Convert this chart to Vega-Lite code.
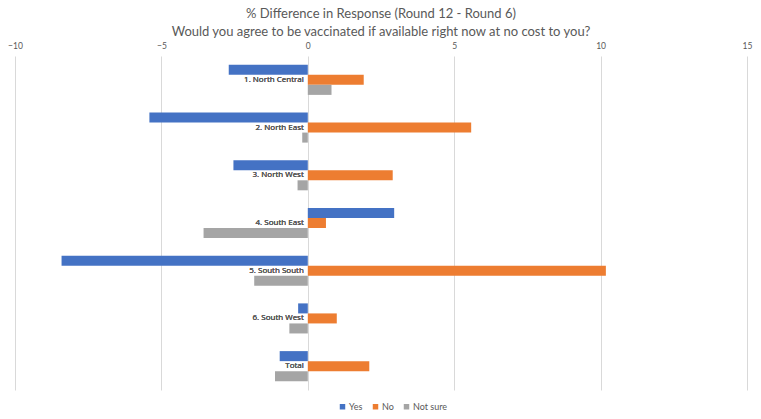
{
  "$schema": "https://vega.github.io/schema/vega-lite/v6.json",
  "width": 732,
  "height": 334,
  "autosize": {"type": "none"},
  "padding": {"left": 15, "top": 56, "right": 14, "bottom": 29},
  "background": "white",
  "title": {
    "text": ["% Difference in Response (Round 12 - Round 6)", "Would you agree to be vaccinated if available right now at no cost to you?"],
    "anchor": "middle",
    "font": "Lato",
    "fontSize": 13,
    "fontWeight": "normal",
    "color": "#595959",
    "lineHeight": 18,
    "offset": 2
  },
  "config": {
    "view": {"stroke": null},
    "font": "Lato"
  },
  "data": {
    "values": [
      {"region": "1. North Central", "series": "Yes", "value": -2.70},
      {"region": "1. North Central", "series": "No", "value": 1.91},
      {"region": "1. North Central", "series": "Not sure", "value": 0.81},
      {"region": "2. North East", "series": "Yes", "value": -5.41},
      {"region": "2. North East", "series": "No", "value": 5.58},
      {"region": "2. North East", "series": "Not sure", "value": -0.19},
      {"region": "3. North West", "series": "Yes", "value": -2.54},
      {"region": "3. North West", "series": "No", "value": 2.90},
      {"region": "3. North West", "series": "Not sure", "value": -0.35},
      {"region": "4. South East", "series": "Yes", "value": 2.95},
      {"region": "4. South East", "series": "No", "value": 0.62},
      {"region": "4. South East", "series": "Not sure", "value": -3.56},
      {"region": "5. South South", "series": "Yes", "value": -8.41},
      {"region": "5. South South", "series": "No", "value": 10.18},
      {"region": "5. South South", "series": "Not sure", "value": -1.83},
      {"region": "6. South West", "series": "Yes", "value": -0.33},
      {"region": "6. South West", "series": "No", "value": 0.99},
      {"region": "6. South West", "series": "Not sure", "value": -0.63},
      {"region": "Total", "series": "Yes", "value": -0.96},
      {"region": "Total", "series": "No", "value": 2.10},
      {"region": "Total", "series": "Not sure", "value": -1.12}
    ]
  },
  "encoding": {
    "y": {
      "field": "region",
      "type": "nominal",
      "sort": null,
      "scale": {"paddingInner": 0.37, "paddingOuter": 0.185},
      "axis": null
    }
  },
  "layer": [
    {
      "mark": {"type": "bar"},
      "encoding": {
        "x": {
          "field": "value",
          "type": "quantitative",
          "scale": {"domain": [-10, 15], "nice": false},
          "axis": {
            "orient": "top",
            "title": null,
            "values": [-10, -5, 0, 5, 10, 15],
            "ticks": false,
            "domain": false,
            "grid": true,
            "gridColor": "#d9d9d9",
            "gridWidth": 1,
            "labelFont": "Lato",
            "labelFontSize": 8.5,
            "labelColor": "#595959",
            "labelPadding": 6,
            "labelFlush": false
          }
        },
        "yOffset": {"field": "series", "type": "nominal", "sort": ["Yes", "No", "Not sure"]},
        "color": {
          "field": "series",
          "type": "nominal",
          "sort": ["Yes", "No", "Not sure"],
          "scale": {"domain": ["Yes", "No", "Not sure"], "range": ["#4472C4", "#ED7D31", "#A5A5A5"]},
          "legend": {
            "title": null,
            "orient": "none",
            "direction": "horizontal",
            "legendX": 323,
            "legendY": 346,
            "symbolType": "square",
            "symbolSize": 30,
            "symbolStrokeWidth": 0,
            "labelFont": "Lato",
            "labelFontSize": 9,
            "labelColor": "#595959",
            "columnPadding": 8,
            "labelOffset": 2
          }
        }
      }
    },
    {
      "mark": {"type": "text", "align": "right", "baseline": "middle", "dx": -4, "font": "Open Sans", "fontSize": 8, "fontWeight": "normal", "color": "#595959"},
      "encoding": {
        "x": {"datum": 0, "type": "quantitative"},
        "text": {"field": "region", "type": "nominal"}
      }
    }
  ]
}
